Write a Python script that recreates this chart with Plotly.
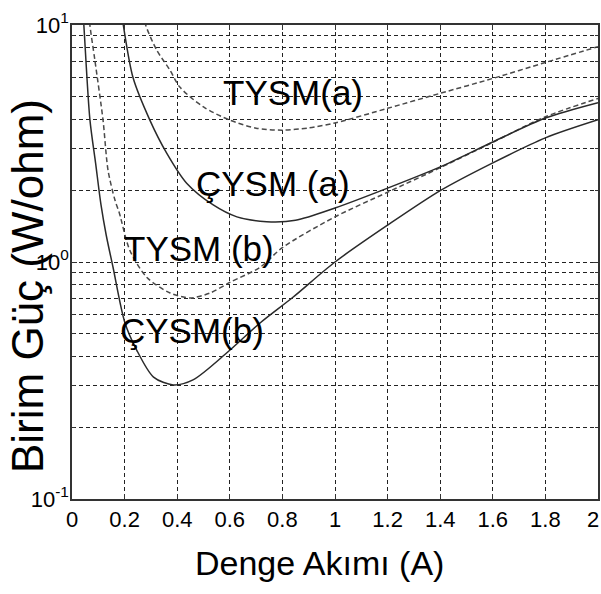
import plotly.graph_objects as go

# ---- data ----
cysm_b_x = [0.040, 0.045, 0.068, 0.090, 0.110, 0.130, 0.156, 0.200, 0.246, 0.310, 0.385, 0.460, 0.590, 0.715, 0.840, 1.000, 1.200, 1.400, 1.600, 1.800, 2.000]
cysm_b_y = [12.0, 10.0, 4.0, 2.6, 1.75, 1.3, 0.95, 0.56, 0.425, 0.327, 0.303, 0.318, 0.415, 0.553, 0.71, 1.0, 1.43, 2.0, 2.62, 3.34, 3.98]

tysm_b_x = [0.062, 0.068, 0.087, 0.118, 0.137, 0.163, 0.180, 0.220, 0.285, 0.373, 0.450, 0.525, 0.600, 0.715, 0.800, 1.000, 1.200, 1.400, 1.600, 1.800, 2.000]
tysm_b_y = [12.0, 10.0, 7.1, 3.97, 2.44, 1.83, 1.61, 1.12, 0.86, 0.74, 0.705, 0.74, 0.82, 0.95, 1.15, 1.55, 1.97, 2.5, 3.2, 4.1, 4.9]

cysm_a_x = [0.185, 0.195, 0.232, 0.296, 0.360, 0.436, 0.537, 0.627, 0.740, 0.850, 1.000, 1.200, 1.400, 1.600, 1.800, 2.000]
cysm_a_y = [12.0, 10.0, 6.0, 3.97, 2.88, 2.15, 1.74, 1.55, 1.48, 1.5, 1.69, 2.05, 2.52, 3.21, 4.05, 4.7]

tysm_a_x = [0.265, 0.280, 0.322, 0.372, 0.410, 0.500, 0.600, 0.700, 0.800, 0.900, 1.000, 1.200, 1.400, 1.600, 1.800, 2.000]
tysm_a_y = [12.0, 10.0, 7.84, 6.46, 5.47, 4.51, 3.97, 3.67, 3.6, 3.68, 3.86, 4.45, 5.15, 5.95, 6.95, 8.1]

x_ticks = [0, 0.2, 0.4, 0.6, 0.8, 1, 1.2, 1.4, 1.6, 1.8, 2]
x_ticktext = ["0", "0.2", "0.4", "0.6", "0.8", "1", "1.2", "1.4", "1.6", "1.8", "2"]
y_ticks = [0.1, 1, 10]
y_ticktext = ["10<sup>-1</sup>", "10<sup>0</sup>", "10<sup>1</sup>"]
y_minor = [m * d for d in (0.1, 1) for m in range(2, 10)]

labels = ["TYSM(a)", "ÇYSM (a)", "TYSM (b)", "ÇYSM(b)"]

FONT = "Liberation Sans, Arial, sans-serif"

fig = go.Figure()
solid = dict(color="#2a2a2a", width=1.5)
dashed = dict(color="#4a4a4a", width=1.5, dash="5px,3px")

fig.add_trace(go.Scatter(x=cysm_b_x, y=cysm_b_y, mode="lines", line=dict(**solid, shape="spline", smoothing=0.8)))
fig.add_trace(go.Scatter(x=tysm_b_x, y=tysm_b_y, mode="lines", line=dict(**dashed, shape="spline", smoothing=0.8)))
fig.add_trace(go.Scatter(x=cysm_a_x, y=cysm_a_y, mode="lines", line=dict(**solid, shape="spline", smoothing=0.8)))
fig.add_trace(go.Scatter(x=tysm_a_x, y=tysm_a_y, mode="lines", line=dict(**dashed, shape="spline", smoothing=0.8)))

L, R, T, B = 72, 3, 25, 95
W, H = 601, 594
pw, ph = W - L - R, H - T - B

def px(xp):
    return (xp - L) / pw

def py(yp):
    return (H - B - yp) / ph

label_pos = [(293, 92), (273, 183), (199, 248), (192, 330)]
for txt, (xx, yy) in zip(labels, label_pos):
    fig.add_annotation(text=txt, x=px(xx), y=py(yy), xref="paper", yref="paper",
                       showarrow=False, font=dict(family=FONT, size=35, color="black"),
                       xanchor="center", yanchor="middle")

fig.add_annotation(text="Denge Akımı (A)", x=px(319), y=py(563), xref="paper", yref="paper",
                   showarrow=False, font=dict(family=FONT, size=34, color="black"),
                   xanchor="center", yanchor="middle")
fig.add_annotation(text="Birim Güç (W/ohm)", x=px(27), y=py(286), xref="paper", yref="paper",
                   showarrow=False, textangle=-90, font=dict(family=FONT, size=44, color="black"),
                   xanchor="center", yanchor="middle")

# last x tick label drawn right-aligned so it stays inside the page, as in the reference
fig.add_annotation(text=x_ticktext[-1], x=px(600), y=py(519), xref="paper", yref="paper",
                   showarrow=False, font=dict(family=FONT, size=22, color="black"),
                   xanchor="right", yanchor="middle", borderpad=0)

grid = dict(showgrid=True, gridcolor="#222222", gridwidth=1, griddash="4px,3px")

fig.update_xaxes(range=[0, 2], tickvals=x_ticks[:-1], ticktext=x_ticktext[:-1], zeroline=False,
                 automargin=False, ticklabeloverflow="allow",
                 showline=True, linecolor="#333", linewidth=1.5, mirror="ticks",
                 ticks="inside", ticklen=5, tickcolor="#333",
                 tickfont=dict(family=FONT, size=22, color="black"), **grid)
fig.update_yaxes(type="log", range=[-1, 1], tickvals=y_ticks, ticktext=y_ticktext,
                 automargin=False, ticklabeloverflow="allow", ticklabelstandoff=-3,
                 showline=True, linecolor="#333", linewidth=1.5, mirror="ticks",
                 ticks="inside", ticklen=5, tickcolor="#333",
                 tickfont=dict(family=FONT, size=22, color="black"),
                 minor=dict(tickvals=y_minor, showgrid=True, gridcolor="#222222", gridwidth=1,
                            griddash="4px,3px", ticks="inside", ticklen=3, tickcolor="#333"),
                 **grid)

fig.update_layout(width=W, height=H, margin=dict(l=L, r=R, t=T, b=B, autoexpand=False),
                  paper_bgcolor="white", plot_bgcolor="white", showlegend=False,
                  font=dict(family=FONT))

fig.write_html("out.html", config={"displayModeBar": False},
               post_script="document.body.style.margin='0';document.body.style.overflow='hidden';")
